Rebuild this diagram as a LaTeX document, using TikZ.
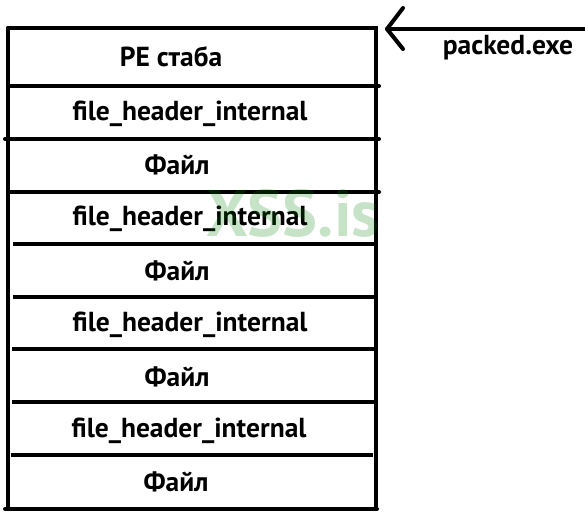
\documentclass[tikz,border=0pt]{standalone}
\usepackage{fontspec}
\setmainfont{PT Sans}
\begin{document}
\begin{tikzpicture}[x=1pt,y=-1pt,
  lbl/.style={font=\bfseries\fontsize{27.5}{30}\selectfont, inner sep=0pt, anchor=center},
  rule/.style={line width=4pt},
  wm/.style={font=\bfseries\fontsize{66}{70}\selectfont, text=green!50!black, opacity=0.22, inner sep=0pt}]
\useasboundingbox (0,0) rectangle (585,519);
% outer box
\draw[rule, line cap=round] (8,28) -- (376,28) -- (376,509);
\draw[rule, line cap=round] (8,28) -- (8,509);
% separators
\draw[rule, line cap=round] (8,86) -- (379,86);
\draw[rule, line cap=round] (5,139) -- (379,139);
\draw[rule, line cap=round] (8,192) -- (379,192);
\draw[rule] (13,244) -- (376,244);
\draw[rule] (13,297) -- (375,297);
\draw[rule] (12,349) -- (374,349);
\draw[rule] (12,402) -- (374,402);
\draw[rule] (11,455) -- (373,455);
\draw[rule, line cap=round] (5,509) -- (377,509);
% labels
\node[lbl] (stub) at (171,57) {PE стаба};
\node[lbl] (h1) at (190,114) {file\_header\_internal};
\node[lbl] (f1) at (177,165) {Файл};
\node[lbl] (h2) at (190,219) {file\_header\_internal};
\node[lbl] (f2) at (177,271) {Файл};
\node[lbl] (h3) at (190,325) {file\_header\_internal};
\node[lbl] (f3) at (177,377) {Файл};
\node[lbl] (h4) at (189,431) {file\_header\_internal};
\node[lbl] (f4) at (176,482) {Файл};
% arrow
\coordinate (tip) at (387,29);
\coordinate (tail) at (585,29);
\draw[rule, line cap=round, line join=round] (tail) -- (tip);
\draw[rule, line cap=round, line join=round] (403,8) -- (tip) -- (403,49);
\node[lbl] (pk) at (508,48) {packed.exe};
% watermark
\node[wm] (wmk) at (293,213) {XSS.is};
\end{tikzpicture}
\end{document}
